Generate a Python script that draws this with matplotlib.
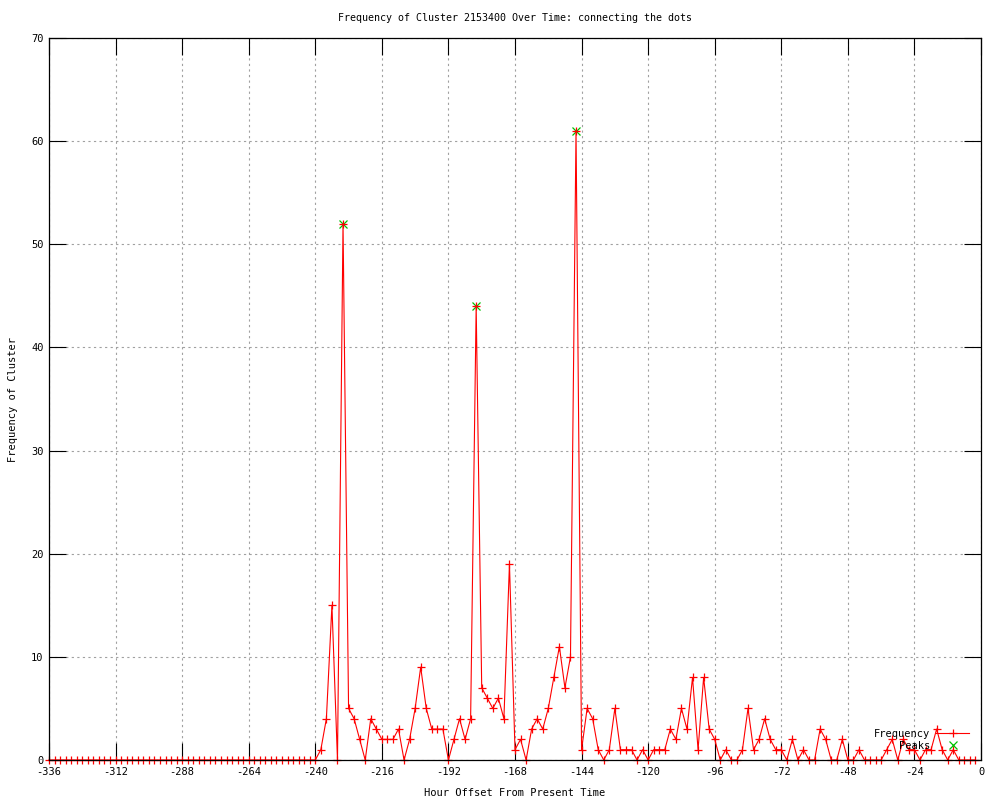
import numpy as np
import matplotlib.pyplot as plt

# ---------------------------------------------------------------------------
# Data (one sample every 2 hours)
# ---------------------------------------------------------------------------
hours = list(range(-336, 0, 2))

freq_quiet = [0] * 48  # -336 .. -242
freq_active = [
    0, 1, 4, 15, 0, 52, 5, 4, 2, 0,        # -240 .. -222
    4, 3, 2, 2, 2, 3, 0, 2, 5, 9,          # -220 .. -202
    5, 3, 3, 3, 0, 2, 4, 2, 4, 44,         # -200 .. -182
    7, 6, 5, 6, 4, 19, 1, 2, 0, 3,         # -180 .. -162
    4, 3, 5, 8, 11, 7, 10, 61, 1, 5,       # -160 .. -142
    4, 1, 0, 1, 5, 1, 1, 1, 0, 1,          # -140 .. -122
    0, 1, 1, 1, 3, 2, 5, 3, 8, 1,          # -120 .. -102
    8, 3, 2, 0, 1, 0, 0, 1, 5, 1,          # -100 .. -82
    2, 4, 2, 1, 1, 0, 2, 0, 1, 0,          # -80 .. -62
    0, 3, 2, 0, 0, 2, 0, 0, 1, 0,          # -60 .. -42
    0, 0, 0, 1, 2, 0, 2, 1, 1, 0,          # -40 .. -22
    1, 1, 3, 1, 0, 1, 0, 0, 0, 0,          # -20 .. -2
]
frequency = freq_quiet + freq_active

peak_hours = [-230, -182, -146]
peak_values = [52, 44, 61]

x_ticks = list(range(-336, 1, 24))
y_ticks = list(range(0, 71, 10))

# ---------------------------------------------------------------------------
# Plot (gnuplot-like look)
# ---------------------------------------------------------------------------
FONT = "DejaVu Sans Mono"
FS = 7.5
plt.rcParams["font.family"] = FONT
plt.rcParams["axes.unicode_minus"] = False

fig = plt.figure(figsize=(10, 8), dpi=100)
ax = fig.add_axes([0.049, 0.05, 0.932, 0.9025])

ax.plot(peak_hours, peak_values, linestyle="none", marker="x", color="#00c000",
        markersize=5.5, markeredgewidth=0.9, label="Peaks", zorder=2)
ax.plot(hours, frequency, color="#ff0000", lw=0.8, marker="+", markersize=6,
        markeredgewidth=0.9, label="Frequency", clip_on=False, zorder=2.2)

ax.set_xlim(-336, 0)
ax.set_ylim(0, 70)
ax.set_xticks(x_ticks)
ax.set_yticks(y_ticks)
ax.tick_params(direction="in", length=12, width=0.8, top=True, right=True,
               labelsize=FS, pad=4)
ax.tick_params(axis="x", pad=5)
ax.grid(True, color="#a0a0a0", lw=0.8, linestyle=(0, (2, 3)))
for sp in ax.spines.values():
    sp.set_linewidth(0.9)
    sp.set_zorder(3)

ax.set_title("Frequency of Cluster 2153400 Over Time: connecting the dots",
             fontsize=7.2, y=1.0277, pad=0, va="center")
ax.set_xlabel("Hour Offset From Present Time", fontsize=FS, va="center")
ax.xaxis.set_label_coords(0.5, -0.0457)
ax.set_ylabel("Frequency of Cluster", fontsize=FS, va="center")
ax.yaxis.set_label_coords(-0.0386, 0.5)

handles, labels = ax.get_legend_handles_labels()
ax.legend(handles[::-1], labels[::-1], loc="lower right", frameon=False,
          markerfirst=False, fontsize=FS, numpoints=1, handlelength=3.2,
          handletextpad=0.6, labelspacing=0.2, borderaxespad=0.0,
          bbox_to_anchor=(0.992, 0.007))

fig.savefig("out.png", dpi=100)
